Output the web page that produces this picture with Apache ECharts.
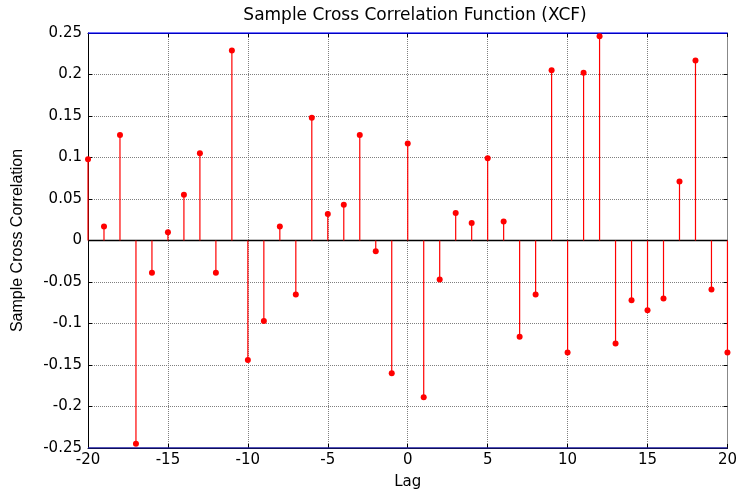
<!DOCTYPE html>
<html><head><meta charset="utf-8">
<script src="https://cdn.jsdelivr.net/npm/echarts@6/dist/echarts.min.js"></script>
<style>html,body{margin:0;padding:0;background:#fff}#c{width:740px;height:496px}</style>
</head><body><div id="c"></div>
<script>
var lags = [-20,-19,-18,-17,-16,-15,-14,-13,-12,-11,-10,-9,-8,-7,-6,-5,-4,-3,-2,-1,0,1,2,3,4,5,6,7,8,9,10,11,12,13,14,15,16,17,18,19,20];
var xcf = [0.098,0.017,0.127,-0.245,-0.039,0.010,0.055,0.105,-0.039,0.229,-0.144,-0.097,0.017,-0.065,0.148,0.032,0.043,0.127,-0.013,-0.160,0.117,-0.189,-0.047,0.033,0.021,0.099,0.023,-0.116,-0.065,0.205,-0.135,0.202,0.246,-0.124,-0.072,-0.084,-0.070,0.071,0.217,-0.059,-0.135];
var bounds = [0.25, -0.25];
var xTicks = {min:-20, max:20, interval:5};
var yTicks = {min:-0.25, max:0.25, interval:0.05};

var data = lags.map(function(l,i){return [l, xcf[i]];});
var chart = echarts.init(document.getElementById('c'), null, {renderer:'canvas'});
var fnt = 'DejaVu Sans, sans-serif';
var fnt2 = 'Liberation Sans, Arial, sans-serif';
function fmt(v){return String(parseFloat(v.toFixed(2)));}
var gridLine = {show:true, lineStyle:{color:'#7f7f7f', type:[1,1], width:1}};
chart.setOption({
  animation:false,
  title:{text:'Sample Cross Correlation Function (XCF)', left:410, textAlign:'center', top:2,
    textStyle:{fontFamily:fnt, fontSize:17, fontWeight:'normal', color:'#000'}},
  grid:{left:88, right:11, top:33, bottom:48},
  xAxis:[{type:'value', min:xTicks.min, max:xTicks.max, interval:xTicks.interval,
    name:'Lag', nameLocation:'middle', nameGap:27,
    nameTextStyle:{fontFamily:fnt, fontSize:15, color:'#000'},
    axisLine:{show:true, onZero:false, lineStyle:{color:'#000', width:1}},
    axisTick:{show:true, inside:true, length:4, lineStyle:{color:'#000'}},
    axisLabel:{fontFamily:fnt, fontSize:15, color:'#000', margin:5},
    splitLine:gridLine},
   {type:'value', position:'top', min:xTicks.min, max:xTicks.max, interval:xTicks.interval,
    axisLine:{show:true, onZero:false, lineStyle:{color:'#000'}},
    axisTick:{show:true, inside:true, length:4, lineStyle:{color:'#000'}},
    axisLabel:{show:false}, splitLine:{show:false}}],
  yAxis:[{type:'value', min:yTicks.min, max:yTicks.max, interval:yTicks.interval,
    name:'Sample Cross Correlation', nameLocation:'middle', nameGap:62,
    nameTextStyle:{fontFamily:fnt2, fontSize:16, color:'#000'},
    axisLine:{show:true, onZero:false, lineStyle:{color:'#000', width:1}},
    axisTick:{show:true, inside:true, length:4, lineStyle:{color:'#000'}},
    axisLabel:{fontFamily:fnt, fontSize:15, color:'#000', margin:6, formatter:fmt},
    splitLine:gridLine},
   {type:'value', position:'right', min:yTicks.min, max:yTicks.max, interval:yTicks.interval,
    axisLine:{show:true, onZero:false, lineStyle:{color:'#888'}},
    axisTick:{show:true, inside:true, length:4, lineStyle:{color:'#000'}},
    axisLabel:{show:false}, splitLine:{show:false}}],
  series:[
    {type:'line', data:[[xTicks.min,0],[xTicks.max,0]], symbol:'none', silent:true,
     lineStyle:{color:'#000', width:1.5}, z:3},
    {type:'line', data:[[xTicks.min,bounds[0]],[xTicks.max,bounds[0]]], symbol:'none', silent:true,
     lineStyle:{color:'#0000ff', width:1.5}, z:4},
    {type:'line', data:[[xTicks.min,bounds[1]],[xTicks.max,bounds[1]]], symbol:'none', silent:true,
     lineStyle:{color:'#1a1aa0', width:1.5}, z:4},
    {type:'custom', data:data, z:5, clip:false,
     renderItem:function(params, api){
       var p = api.coord([api.value(0), api.value(1)]);
       var b = api.coord([api.value(0), 0]);
       return {type:'group', children:[
         {type:'line', shape:{x1:b[0], y1:b[1], x2:p[0], y2:p[1]}, style:{stroke:'#ff0000', lineWidth:1.2}},
         {type:'circle', shape:{cx:p[0], cy:p[1], r:3}, style:{fill:'#ff0000'}}
       ]};
     }}
  ]
});
</script></body></html>
